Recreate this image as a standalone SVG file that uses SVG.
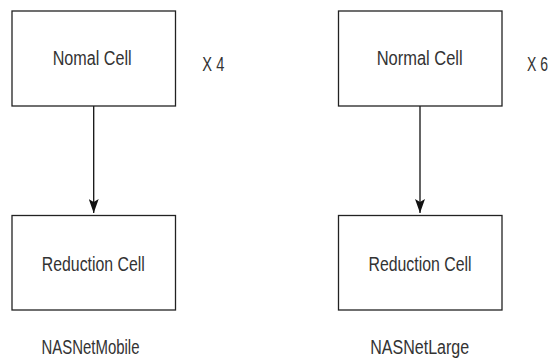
<svg xmlns="http://www.w3.org/2000/svg" width="555" height="358" viewBox="0 0 555 358">
<style>
.box{fill:#fff;stroke:#222;stroke-width:1.3}
.t{font-family:"Liberation Sans",Arial,sans-serif;font-size:19.5px;fill:#333;text-anchor:middle}
.c{stroke:#111;stroke-width:1.3;fill:none}
</style>
<defs>
<marker id="ah" markerUnits="userSpaceOnUse" markerWidth="10" markerHeight="14" refX="5" refY="14" orient="0" viewBox="0 0 10 14">
<path d="M0,0 L5,3 L10,0 L5,14 Z" fill="#111"/>
</marker>
</defs>
<rect width="555" height="358" fill="#fff"/>
<g id="connectors">
<path class="c" d="M93.7,106 V213" marker-end="url(#ah)"/>
<path class="c" d="M420,106 V213" marker-end="url(#ah)"/>
</g>
<g id="normal-mobile">
<rect class="box" x="12" y="11" width="163.5" height="95"/>
<text class="t" x="92.2" y="65" textLength="79" lengthAdjust="spacingAndGlyphs">Nomal Cell</text>
</g>
<g id="reduction-mobile">
<rect class="box" x="12" y="215.5" width="163.5" height="94.5"/>
<text class="t" x="93.3" y="270.5" textLength="103" lengthAdjust="spacingAndGlyphs">Reduction Cell</text>
</g>
<g id="normal-large">
<rect class="box" x="338.5" y="11" width="163.5" height="95"/>
<text class="t" x="419.7" y="65" textLength="86" lengthAdjust="spacingAndGlyphs">Normal Cell</text>
</g>
<g id="reduction-large">
<rect class="box" x="338.5" y="215.5" width="163.5" height="94.5"/>
<text class="t" x="420" y="270.5" textLength="103" lengthAdjust="spacingAndGlyphs">Reduction Cell</text>
</g>
<g id="labels">
<text class="t" x="213.3" y="70.7" textLength="22" lengthAdjust="spacingAndGlyphs">X 4</text>
<text class="t" x="537.5" y="70.7" textLength="21" lengthAdjust="spacingAndGlyphs">X 6</text>
<text class="t" x="90.5" y="353.8" textLength="98" lengthAdjust="spacingAndGlyphs">NASNetMobile</text>
<text class="t" x="419.7" y="353.8" textLength="99" lengthAdjust="spacingAndGlyphs">NASNetLarge</text>
</g>
</svg>
